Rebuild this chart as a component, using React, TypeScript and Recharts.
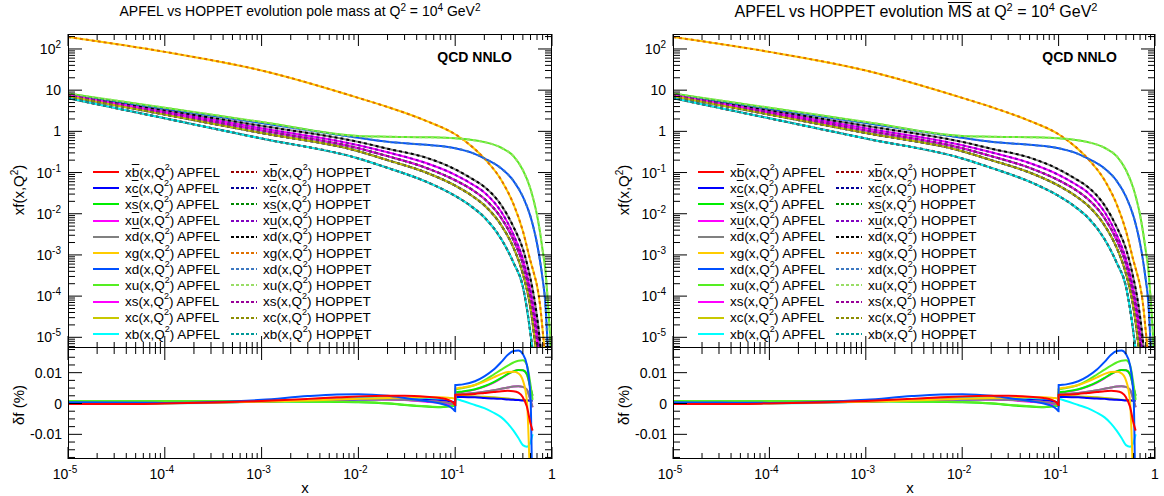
import React from "react";
import { LineChart, Line, XAxis, YAxis } from "recharts";

const FONT = '"Liberation Sans", Arial, Helvetica, sans-serif';

// x grid of the PDF panel
const xGrid = [1e-5, 1e-4, 1e-3, 0.01, 0.02, 0.05, 0.1, 0.15, 0.2, 0.3, 0.4, 0.5, 0.6, 0.65, 0.7, 0.75, 0.8, 0.85, 0.9, 0.95, 0.98];

const xg = [195, 85, 30, 6.5, 3.9, 1.8, 0.85, 0.42, 0.22, 0.065, 0.017, 0.0038, 7e-4, 3.6e-4, 1.8e-4, 6.5e-5, 1.5e-5, 3e-6, 3e-7, 1e-8, 1e-9];
const xu = [8.3, 3.75, 1.69, 0.77, 0.74, 0.72, 0.68, 0.62, 0.55, 0.4, 0.25, 0.115, 0.04, 0.02, 0.0093, 0.0037, 0.0013, 4.8e-4, 9e-5, 1.3e-5, 3e-6];
const xd = [8.0, 3.56, 1.59, 0.7, 0.56, 0.47, 0.39, 0.3, 0.22, 0.125, 0.063, 0.026, 0.0085, 0.0042, 0.0019, 7.5e-4, 2.6e-4, 7.5e-5, 6e-6, 1e-7, 1e-8];
const xdbar = [8.1, 3.3, 1.36, 0.555, 0.38, 0.23, 0.12, 0.07, 0.045, 0.016, 0.0048, 0.0014, 2.6e-4, 1e-4, 3.2e-5, 8e-6, 1.5e-6, 1e-7, 1e-8, 1e-9, 1e-10];
const xubar = [7.9, 3.07, 1.19, 0.46, 0.31, 0.17, 0.088, 0.052, 0.033, 0.011, 0.0031, 8e-4, 1.4e-4, 5e-5, 1.5e-5, 4e-6, 5e-7, 5e-8, 5e-9, 1e-9, 1e-10];
const xs = [7.6, 2.83, 1.05, 0.39, 0.25, 0.13, 0.065, 0.038, 0.023, 0.0078, 0.0023, 6e-4, 9.5e-5, 3e-5, 8e-6, 2e-6, 2e-7, 2e-8, 2e-9, 1e-9, 1e-10];
const xc = [7.1, 2.55, 0.91, 0.33, 0.2, 0.1, 0.048, 0.027, 0.016, 0.0052, 0.0015, 3.5e-4, 5e-5, 1.3e-5, 2.5e-6, 4e-7, 5e-8, 5e-9, 1e-9, 1e-10, 1e-10];
const xb = [6.4, 2.07, 0.67, 0.22, 0.13, 0.06, 0.027, 0.0145, 0.0082, 0.0024, 6.5e-4, 1.7e-4, 1.2e-5, 2.5e-6, 3e-7, 4e-8, 5e-9, 1e-9, 1e-10, 1e-10, 1e-10];
// sea antiquarks equal the quarks at this scale
const xsbar = xs;
const xcbar = xc;
const xbbar = xb;

// x grid of the relative difference panel (jump at x = 0.1)
const dGrid = [1e-5, 3e-5, 1e-4, 3e-4, 1e-3, 3e-3, 0.006, 0.01, 0.02, 0.03, 0.05, 0.07, 0.085, 0.095, 0.0999, 0.1001, 0.12, 0.16, 0.2, 0.25, 0.3, 0.35, 0.4, 0.45, 0.5, 0.55, 0.6, 0.63];

const dBbar = [-0.0002, -0.0002, 0.0, 0.0003, 0.0008, 0.0015, 0.002, 0.0023, 0.0025, 0.0025, 0.0022, 0.0018, 0.0012, 0.0003, -0.0005, 0.0028, 0.0029, 0.0031, 0.0034, 0.0037, 0.004, 0.0041, 0.004, 0.0035, 0.002, -0.001, -0.0065, -0.0088];
const dCbar = [0.0001, 0.0001, 0.0002, 0.0003, 0.0006, 0.001, 0.0012, 0.0013, 0.0014, 0.0014, 0.0012, 0.001, 0.0008, 0.0005, 0.0003, 0.0022, 0.0021, 0.002, 0.0018, 0.0016, 0.0015, 0.0013, 0.0012, 0.0011, 0.001, 0.001, 0.0009, 0.0009];
const dSbar = [0.0008, 0.0008, 0.0008, 0.0008, 0.0007, 0.0006, 0.0005, 0.0004, 0.0, -0.0005, -0.001, -0.0012, -0.001, -0.0008, -0.0007, 0.0036, 0.0039, 0.0046, 0.0056, 0.0069, 0.0083, 0.0096, 0.0104, 0.0109, 0.0108, 0.0095, 0.005, 0.0025];
const dUbar = [0.0002, 0.0002, 0.0003, 0.0005, 0.0008, 0.0012, 0.0014, 0.0015, 0.0014, 0.0012, 0.0008, 0.0005, 0.0002, -0.0002, -0.0005, 0.003, 0.0031, 0.0034, 0.0038, 0.0043, 0.0048, 0.0052, 0.0055, 0.0056, 0.0054, 0.0045, 0.001, -0.0012];
const dDbar = [0.0002, 0.0002, 0.0003, 0.0005, 0.0008, 0.0012, 0.0014, 0.0015, 0.0014, 0.0012, 0.0008, 0.0005, 0.0002, -0.0002, -0.0005, 0.003, 0.0031, 0.0034, 0.0038, 0.0043, 0.0048, 0.0052, 0.0055, 0.0056, 0.0054, 0.0045, 0.001, -0.0012];
const dG = [0.0, 0.0, 0.0001, 0.0003, 0.0006, 0.001, 0.0013, 0.0015, 0.0018, 0.0019, 0.002, 0.002, 0.0019, 0.0017, 0.0016, 0.0048, 0.0052, 0.006, 0.0071, 0.0085, 0.0096, 0.0102, 0.0103, 0.0098, 0.0075, 0.001, -0.03, -0.05];
const dD = [0.0004, 0.0003, 0.0002, 0.0005, 0.0012, 0.0024, 0.0029, 0.003, 0.0025, 0.0018, 0.0008, 0.0, -0.0008, -0.0018, -0.0025, 0.006, 0.0062, 0.0072, 0.0088, 0.011, 0.0135, 0.0158, 0.017, 0.0172, 0.016, 0.0125, 0.002, -0.04];
const dU = [0.0008, 0.0008, 0.0008, 0.0008, 0.0008, 0.0007, 0.0006, 0.0005, 0.0001, -0.0004, -0.0009, -0.0011, -0.0009, -0.0007, -0.0006, 0.0045, 0.005, 0.006, 0.0075, 0.0094, 0.011, 0.0123, 0.0133, 0.0139, 0.014, 0.0125, 0.006, 0.0012];
const dS = [0.0002, 0.0002, 0.0003, 0.0004, 0.0007, 0.0011, 0.0014, 0.0015, 0.0014, 0.0011, 0.0006, 0.0002, -0.0002, -0.0006, -0.0009, 0.0035, 0.0038, 0.0045, 0.0055, 0.0068, 0.0082, 0.0095, 0.0104, 0.0109, 0.0108, 0.0095, 0.005, 0.0025];
const dC = [0.0001, 0.0001, 0.0002, 0.0003, 0.0006, 0.001, 0.0012, 0.0013, 0.0013, 0.0012, 0.001, 0.0008, 0.0006, 0.0004, 0.0002, 0.0024, 0.0024, 0.0023, 0.0022, 0.002, 0.0018, 0.0016, 0.0014, 0.0012, 0.0011, 0.001, 0.0009, 0.0008];
const dB = [-0.0002, -0.0002, 0.0, 0.0002, 0.0006, 0.0012, 0.0016, 0.0018, 0.0019, 0.0018, 0.0015, 0.0012, 0.0008, 0.0002, -0.0004, 0.0015, 0.0008, -0.0005, -0.0015, -0.003, -0.0045, -0.0065, -0.0088, -0.0112, -0.0135, -0.014, -0.0125, -0.01];

// flavours in legend order
const flavourKeys = ["bbar", "cbar", "sbar", "ubar", "dbar", "g", "d", "u", "s", "c", "b"];
const flavourLetters = ["b", "c", "s", "u", "d", "g", "d", "u", "s", "c", "b"];
const flavourBar = [true, true, true, true, true, false, false, false, false, false, false];
const pdfValues = [xbbar, xcbar, xsbar, xubar, xdbar, xg, xd, xu, xs, xc, xb];
const diffValues = [dBbar, dCbar, dSbar, dUbar, dDbar, dG, dD, dU, dS, dC, dB];

const apfelColors = ["#ff0000", "#0000ff", "#00ee00", "#ff00ff", "#808080", "#ffcc00", "#0050ff", "#55ee22", "#ff00ff", "#c8c800", "#00ffff"];
const hoppetColors = ["#990000", "#000099", "#008800", "#8000c0", "#000000", "#e07000", "#3c78c0", "#99dd66", "#990099", "#8c8c00", "#009999"];

// axis ticks
const xMajor = [1e-5, 1e-4, 1e-3, 1e-2, 1e-1, 1];
const xMajorText = [["10", "-5"], ["10", "-4"], ["10", "-3"], ["10", "-2"], ["10", "-1"], ["1", ""]];
const yMajor = [1e-5, 1e-4, 1e-3, 1e-2, 1e-1, 1, 10, 100];
const yMajorText = [["10", "-5"], ["10", "-4"], ["10", "-3"], ["10", "-2"], ["10", "-1"], ["1", ""], ["10", ""], ["10", "2"]];
const dMajor = [-0.01, 0, 0.01];
const dMajorText = ["-0.01", "0", "0.01"];

const Y_DOMAIN: [number, number] = [5.5e-6, 231];
const D_DOMAIN: [number, number] = [-0.018, 0.018];

const pdfRows = xGrid.map((x, i) => {
  const row: Record<string, number> = { x };
  flavourKeys.forEach((k, j) => (row[k] = pdfValues[j][i]));
  return row;
});
const diffRows = dGrid.map((x, i) => {
  const row: Record<string, number> = { x };
  flavourKeys.forEach((k, j) => (row[k] = diffValues[j][i]));
  return row;
});

function logTicks(lo: number, hi: number) {
  const out: number[] = [];
  for (let k = -7; k <= 3; k++) {
    for (let m = 1; m <= 9; m++) {
      const v = Number((m * Math.pow(10, k)).toPrecision(6));
      if (v >= lo * 0.9999 && v <= hi * 1.0001) out.push(v);
    }
  }
  return out;
}
const xTicks = logTicks(1e-5, 1);
const yTicks = logTicks(Y_DOMAIN[0], Y_DOMAIN[1]);
const dTicks: number[] = [];
for (let i = -7; i <= 7; i++) dTicks.push(Number((i * 0.0025).toFixed(4)));

const near = (a: number, b: number) => Math.abs(a - b) <= Math.abs(b) * 1e-4 + 1e-9;

function SupText({ x, y, base, exp, anchor }: { x: number; y: number; base: string; exp: string; anchor: string }) {
  return (
    <text x={x} y={y} textAnchor={anchor} fontFamily={FONT} fontSize={14} fill="#000">
      <tspan>{base}</tspan>
      {exp && (
        <tspan dy={-6} fontSize={10}>
          {exp}
        </tspan>
      )}
    </text>
  );
}

function makeXTick(plotH: number, withLabels: boolean) {
  return (props: any) => {
    const { x, y, payload } = props;
    const v = payload.value as number;
    const mi = xMajor.findIndex((m) => near(v, m));
    const len = mi >= 0 ? 12 : 6;
    return (
      <g>
        <line x1={x} y1={y} x2={x} y2={y - len} stroke="#000" strokeWidth={1} />
        <line x1={x} y1={y - plotH} x2={x} y2={y - plotH + len} stroke="#000" strokeWidth={1} />
        {withLabels && mi >= 0 && (
          <SupText x={mi === 5 ? x : x - 3} y={y + 20} base={xMajorText[mi][0]} exp={xMajorText[mi][1]} anchor="middle" />
        )}
      </g>
    );
  };
}

function makeLogYTick(plotW: number) {
  return (props: any) => {
    const { x, y, payload } = props;
    const v = payload.value as number;
    const mi = yMajor.findIndex((m) => near(v, m));
    const len = mi >= 0 ? 14 : 7;
    return (
      <g>
        <line x1={x} y1={y} x2={x + len} y2={y} stroke="#000" strokeWidth={1} />
        <line x1={x + plotW} y1={y} x2={x + plotW - len} y2={y} stroke="#000" strokeWidth={1} />
        {mi >= 0 && <SupText x={x - 7} y={y + 5} base={yMajorText[mi][0]} exp={yMajorText[mi][1]} anchor="end" />}
      </g>
    );
  };
}

function makeDiffYTick(plotW: number) {
  return (props: any) => {
    const { x, y, payload } = props;
    const v = payload.value as number;
    const mi = dMajor.findIndex((m) => Math.abs(v - m) < 1e-7);
    const len = mi >= 0 ? 14 : 7;
    return (
      <g>
        <line x1={x} y1={y} x2={x + len} y2={y} stroke="#000" strokeWidth={1} />
        <line x1={x + plotW} y1={y} x2={x + plotW - len} y2={y} stroke="#000" strokeWidth={1} />
        {mi >= 0 && (
          <text x={x - 6} y={y + 5} textAnchor="end" fontFamily={FONT} fontSize={14} fill="#000">
            {dMajorText[mi]}
          </text>
        )}
      </g>
    );
  };
}

function FlavourName({ i }: { i: number }) {
  return (
    <>
      x<span style={flavourBar[i] ? { textDecoration: "overline" } : undefined}>{flavourLetters[i]}</span>(x,Q
      <span style={{ fontSize: 9, verticalAlign: "top", lineHeight: "9px", position: "relative", top: -2 }}>2</span>)
    </>
  );
}

const PLOT_TOP = 34;
const PLOT_SPLIT = 348;
const PLOT_BOTTOM = 459;

function Panel({ ox, plotLeft, plotRight, title }: { ox: number; plotLeft: number; plotRight: number; title: React.ReactNode }) {
  const plotW = plotRight - plotLeft;
  const chartW = plotRight - ox + 10;
  const yAxisW = 60;
  const marginLeft = plotLeft - ox - yAxisW;
  const topH = PLOT_SPLIT - PLOT_TOP;
  const botH = PLOT_BOTTOM - PLOT_SPLIT;

  return (
    <>
      {title}
      <div style={{ position: "absolute", left: ox, top: 0 }}>
        <LineChart width={chartW} height={PLOT_SPLIT + 2} data={pdfRows} margin={{ top: PLOT_TOP, right: 10, bottom: 0, left: marginLeft }}>
          <XAxis
            dataKey="x"
            type="number"
            scale="log"
            domain={[1e-5, 1]}
            allowDataOverflow
            ticks={xTicks}
            interval={0}
            tickSize={0}
            tickMargin={0}
            axisLine={false}
            tickLine={false}
            height={2}
            tick={makeXTick(topH, false)}
          />
          <YAxis
            type="number"
            scale="log"
            domain={Y_DOMAIN}
            allowDataOverflow
            ticks={yTicks}
            interval={0}
            tickSize={0}
            tickMargin={0}
            axisLine={false}
            tickLine={false}
            width={yAxisW}
            tick={makeLogYTick(plotW)}
          />
          {flavourKeys.map((k, j) => (
            <Line
              key={"a" + k}
              dataKey={k}
              type="monotone"
              stroke={apfelColors[j]}
              strokeWidth={2}
              dot={false}
              activeDot={false}
              isAnimationActive={false}
            />
          ))}
          {flavourKeys.map((k, j) => (
            <Line
              key={"h" + k}
              dataKey={k}
              type="monotone"
              stroke={hoppetColors[j]}
              strokeWidth={2}
              strokeDasharray="3 3"
              dot={false}
              activeDot={false}
              isAnimationActive={false}
            />
          ))}
        </LineChart>
      </div>
      <div style={{ position: "absolute", left: ox, top: PLOT_SPLIT - 8 }}>
        <LineChart width={chartW} height={496 - PLOT_SPLIT + 8} data={diffRows} margin={{ top: 8, right: 10, bottom: 7, left: marginLeft }}>
          <XAxis
            dataKey="x"
            type="number"
            scale="log"
            domain={[1e-5, 1]}
            allowDataOverflow
            ticks={xTicks}
            interval={0}
            tickSize={0}
            tickMargin={0}
            axisLine={false}
            tickLine={false}
            height={496 - PLOT_BOTTOM - 7}
            tick={makeXTick(botH, true)}
          />
          <YAxis
            type="number"
            domain={D_DOMAIN}
            allowDataOverflow
            ticks={dTicks}
            interval={0}
            tickSize={0}
            tickMargin={0}
            axisLine={false}
            tickLine={false}
            width={yAxisW}
            tick={makeDiffYTick(plotW)}
          />
          {[10, 9, 1, 8, 3, 4, 2, 7, 5, 6, 0].map((j) => (
            <Line
              key={"d" + flavourKeys[j]}
              dataKey={flavourKeys[j]}
              type="monotone"
              stroke={apfelColors[j]}
              strokeWidth={2}
              dot={false}
              activeDot={false}
              isAnimationActive={false}
            />
          ))}
        </LineChart>
      </div>
      {/* frames */}
      <div style={{ position: "absolute", left: plotLeft, top: PLOT_TOP, width: plotW, height: topH, border: "1px solid #000", boxSizing: "border-box", pointerEvents: "none" }} />
      <div style={{ position: "absolute", left: plotLeft, top: PLOT_SPLIT - 1, width: plotW, height: botH + 1, border: "1px solid #000", boxSizing: "border-box", pointerEvents: "none" }} />
      {/* legend */}
      {flavourKeys.map((k, j) => (
        <React.Fragment key={"l" + k}>
          <LegendRow left={ox + 93} top={172 + j * 16.2} color={apfelColors[j]} dashed={false}>
            <FlavourName i={j} /> APFEL
          </LegendRow>
          <LegendRow left={ox + 231} top={172 + j * 16.2} color={hoppetColors[j]} dashed>
            <FlavourName i={j} /> HOPPET
          </LegendRow>
        </React.Fragment>
      ))}
      <div style={{ position: "absolute", left: ox + 400, width: 112, top: 49, textAlign: "right", fontFamily: FONT, fontWeight: "bold", fontSize: 14 }}>QCD NNLO</div>
      <div style={{ position: "absolute", left: ox + 19 - 60, top: 190 - 10, width: 120, height: 20, textAlign: "center", fontFamily: FONT, fontSize: 15, transform: "rotate(-90deg)", lineHeight: "20px" }}>
        xf(x,Q<span style={{ fontSize: 10, position: "relative", top: -6 }}>2</span>)
      </div>
      <div style={{ position: "absolute", left: ox + 19 - 60, top: 405 - 10, width: 120, height: 20, textAlign: "center", fontFamily: FONT, fontSize: 15, transform: "rotate(-90deg)", lineHeight: "20px" }}>
        δf (%)
      </div>
      <div style={{ position: "absolute", left: ox + 305 - 20, top: 479, width: 40, textAlign: "center", fontFamily: FONT, fontSize: 15, lineHeight: "18px" }}>x</div>
    </>
  );
}

function LegendRow({ left, top, color, dashed, children }: { left: number; top: number; color: string; dashed: boolean; children: React.ReactNode }) {
  return (
    <div style={{ position: "absolute", left, top: top - 8, height: 16, display: "flex", alignItems: "center", whiteSpace: "nowrap", fontFamily: FONT, fontSize: 13.5 }}>
      <svg width={26} height={4} style={{ display: "block" }}>
        <line x1={0} y1={2} x2={26} y2={2} stroke={color} strokeWidth={2} strokeDasharray={dashed ? "3 2" : undefined} />
      </svg>
      <span style={{ marginLeft: 6 }}>{children}</span>
    </div>
  );
}

function Title({ cx, size, children }: { cx: number; size: number; children: React.ReactNode }) {
  return (
    <div style={{ position: "absolute", left: cx - 300, width: 600, top: 3, textAlign: "center", fontFamily: FONT, fontSize: size, whiteSpace: "nowrap" }}>
      {children}
    </div>
  );
}

const sup = (s: string, size: number) => (
  <span style={{ fontSize: size, position: "relative", top: -size * 0.55 }}>{s}</span>
);

export default function App() {
  return (
    <div style={{ position: "absolute", left: 0, top: 0, width: 1164, height: 496, background: "#fff", overflow: "hidden" }}>
      <Panel
        ox={0}
        plotLeft={68}
        plotRight={552}
        title={
          <Title cx={300} size={14}>
            APFEL vs HOPPET evolution pole mass at Q{sup("2", 10)} = 10{sup("4", 10)} GeV{sup("2", 10)}
          </Title>
        }
      />
      <Panel
        ox={605}
        plotLeft={673}
        plotRight={1155}
        title={
          <Title cx={916} size={16}>
            APFEL vs HOPPET evolution <span style={{ textDecoration: "overline" }}>MS</span> at Q{sup("2", 11)} = 10{sup("4", 11)} GeV{sup("2", 11)}
          </Title>
        }
      />
    </div>
  );
}
